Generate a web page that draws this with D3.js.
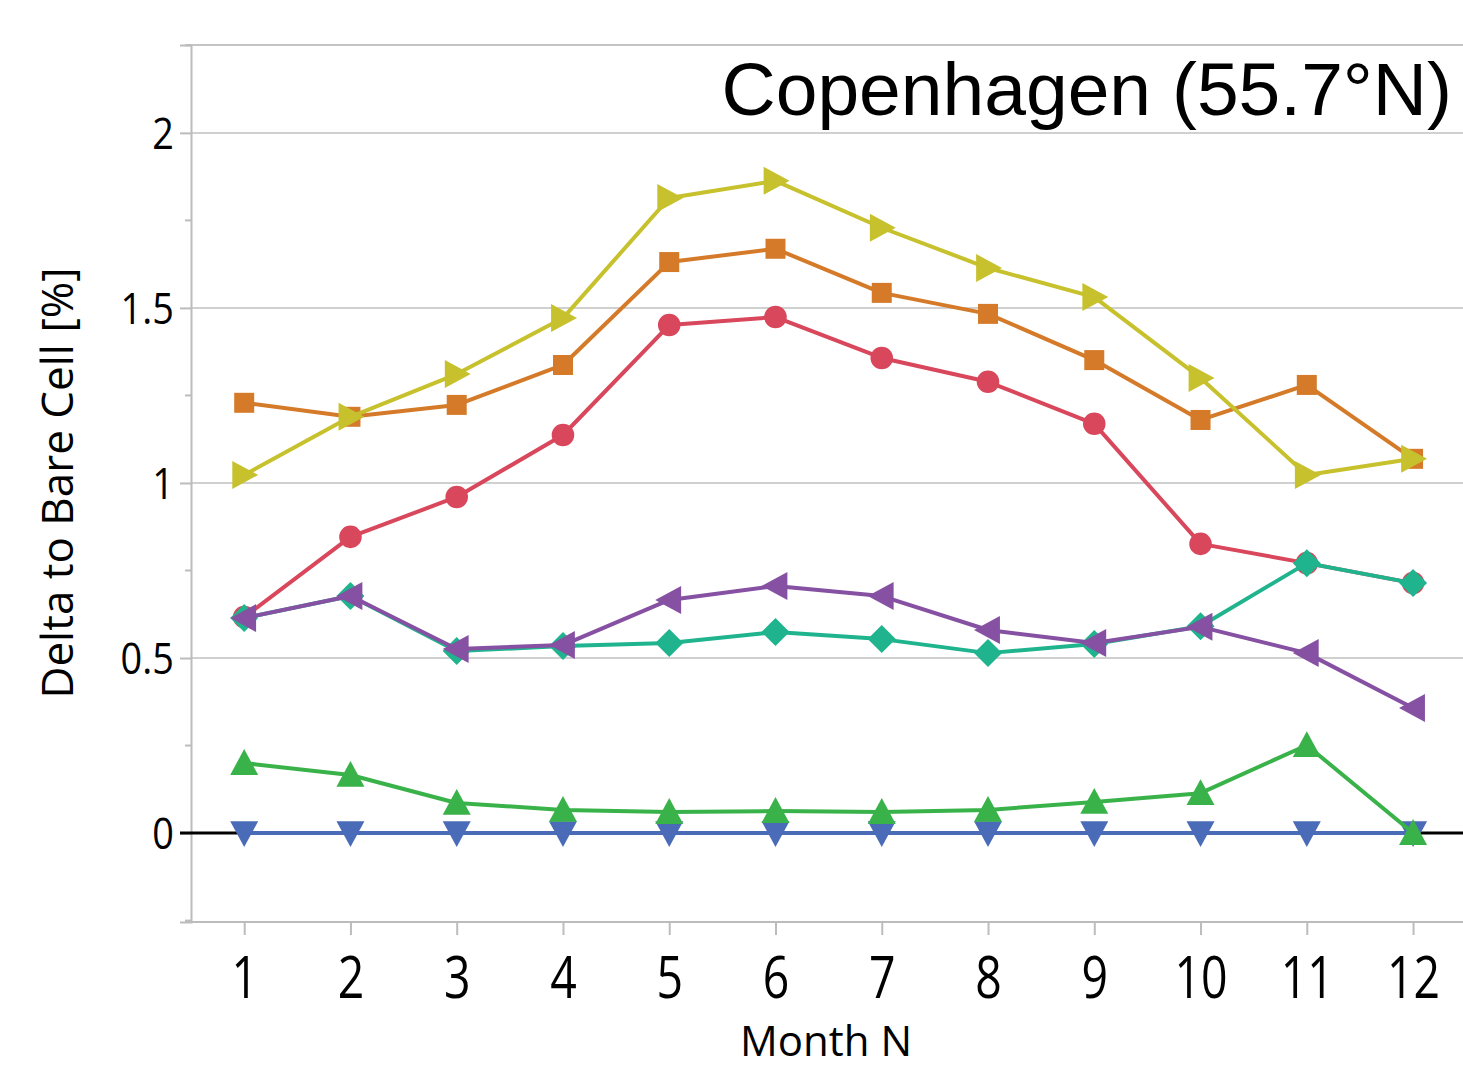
<!DOCTYPE html>
<html>
<head>
<meta charset="utf-8">
<script src="https://cdn.jsdelivr.net/npm/d3@7"></script>
<style>
  body { margin: 0; background: #fff; }
  svg { display: block; }
</style>
</head>
<body>
<svg width="1463" height="1069"></svg>
<script>
// data
const months = [1, 2, 3, 4, 5, 6, 7, 8, 9, 10, 11, 12];
const yTicks = [0, 0.5, 1, 1.5, 2];
const yMinor = [-0.25, 0.25, 0.75, 1.25, 1.75, 2.25];

const blueVals   = [0, 0, 0, 0, 0, 0, 0, 0, 0, 0, 0, 0];
const greenVals  = [0.20, 0.166, 0.086, 0.066, 0.06, 0.063, 0.06, 0.066, 0.089, 0.114, 0.251, 0];
const orangeVals = [1.229, 1.189, 1.223, 1.337, 1.631, 1.669, 1.543, 1.483, 1.351, 1.18, 1.28, 1.069];
const yellowVals = [1.023, 1.189, 1.311, 1.471, 1.814, 1.863, 1.729, 1.614, 1.531, 1.30, 1.023, 1.069];
const redVals    = [0.617, 0.846, 0.96, 1.137, 1.451, 1.474, 1.357, 1.289, 1.169, 0.826, 0.771, 0.714];
const tealVals   = [0.614, 0.677, 0.52, 0.534, 0.543, 0.574, 0.554, 0.514, 0.54, 0.591, 0.771, 0.714];
const purpleVals = [0.614, 0.677, 0.526, 0.537, 0.666, 0.706, 0.677, 0.58, 0.543, 0.589, 0.514, 0.357];

const series = [
  { vals: blueVals,   color: '#4a6bb8', marker: 'down' },
  { vals: greenVals,  color: '#3ab24a', marker: 'up' },
  { vals: orangeVals, color: '#d47a28', marker: 'square' },
  { vals: yellowVals, color: '#c6c12c', marker: 'right' },
  { vals: redVals,    color: '#d8475b', marker: 'circle' },
  { vals: tealVals,   color: '#1fb48e', marker: 'diamond' },
  { vals: purpleVals, color: '#8651a2', marker: 'left' },
];

const svg = d3.select('svg');

const x = d3.scaleLinear().domain([0.49, 12.47]).range([190, 1463]);
const y = d3.scaleLinear().domain([-0.254, 2.251]).range([922, 45]);

// gridlines
svg.append('g')
  .selectAll('line')
  .data(yTicks.filter(d => d !== 0))
  .join('line')
  .attr('x1', 191).attr('x2', 1463)
  .attr('y1', d => y(d)).attr('y2', d => y(d))
  .attr('stroke', '#d0d0d0')
  .attr('stroke-width', 2);

// top frame
svg.append('line')
  .attr('x1', 186).attr('x2', 1463)
  .attr('y1', y(2.251)).attr('y2', y(2.251))
  .attr('stroke', '#c4c4c4').attr('stroke-width', 2);

// y axis
const yAxis = svg.append('g')
  .attr('transform', 'translate(191,0)')
  .call(d3.axisLeft(y).tickValues(yTicks).tickSize(11).tickFormat(d3.format('')));
yAxis.select('.domain').attr('stroke', '#bcbcbc').attr('stroke-width', 2);
yAxis.selectAll('.tick line').attr('stroke', '#bcbcbc').attr('stroke-width', 2);
yAxis.selectAll('.tick text')
  .attr('x', -20)
  .attr('dy', '0.36em')
  .attr('fill', '#000')
  .style('font-family', '"Open Sans", sans-serif')
  .style('font-size', '44px')
  .attr('transform', 'scale(0.86,1)');

svg.append('g')
  .selectAll('line')
  .data(yMinor)
  .join('line')
  .attr('x1', 185).attr('x2', 191)
  .attr('y1', d => y(d)).attr('y2', d => y(d))
  .attr('stroke', '#bcbcbc').attr('stroke-width', 2);

// x axis
const xAxis = svg.append('g')
  .attr('transform', 'translate(0,922)')
  .call(d3.axisBottom(x).tickValues(months).tickSize(13).tickSizeOuter(0).tickPadding(22));
xAxis.select('.domain').attr('stroke', '#bcbcbc').attr('stroke-width', 2)
  .attr('d', 'M185,0H1463');
xAxis.selectAll('.tick line').attr('stroke', '#bcbcbc').attr('stroke-width', 2);
xAxis.selectAll('.tick text')
  .attr('fill', '#000')
  .style('font-family', '"Open Sans", sans-serif')
  .style('font-size', '58px')
  .attr('transform', 'scale(0.8,1)');

// zero line
svg.append('line')
  .attr('x1', 180).attr('x2', 1463)
  .attr('y1', y(0)).attr('y2', y(0))
  .attr('stroke', '#000').attr('stroke-width', 3);

// marker shapes
const triR = 14;
const shapes = {
  circle: d3.symbol(d3.symbolCircle, 400),
  square: d3.symbol(d3.symbolSquare, 400),
};
function markerPath(kind) {
  if (shapes[kind]) return shapes[kind]();
  const a = triR;
  if (kind === 'diamond') return `M0,${-a}L${a},0L0,${a}L${-a},0Z`;
  if (kind === 'up') return `M0,${-a}L${a},${a * 0.85}L${-a},${a * 0.85}Z`;
  if (kind === 'down') return `M0,${a}L${a},${-a * 0.85}L${-a},${-a * 0.85}Z`;
  if (kind === 'right') return `M${a},0L${-a * 0.85},${a}L${-a * 0.85},${-a}Z`;
  return `M${-a},0L${a * 0.85},${a}L${a * 0.85},${-a}Z`;
}

const line = d3.line()
  .x((d, i) => x(months[i]))
  .y(d => y(d));

series.forEach(s => {
  const g = svg.append('g');
  g.append('path')
    .datum(s.vals)
    .attr('d', line)
    .attr('fill', 'none')
    .attr('stroke', s.color)
    .attr('stroke-width', 4)
    .attr('stroke-linejoin', 'round');
  g.selectAll('path.m')
    .data(s.vals)
    .join('path')
    .attr('class', 'm')
    .attr('d', markerPath(s.marker))
    .attr('transform', (d, i) => `translate(${x(months[i])},${y(d)})`)
    .attr('fill', s.color);
});

// title
svg.append('text')
  .attr('x', 1452).attr('y', 115)
  .attr('text-anchor', 'end')
  .style('font-family', '"Liberation Sans", Arial, sans-serif')
  .style('font-size', '75px')
  .text('Copenhagen (55.7°N)');

// axis titles
svg.append('text')
  .attr('transform', 'translate(73,483) rotate(-90)')
  .attr('text-anchor', 'middle')
  .style('font-family', '"Open Sans", sans-serif')
  .style('font-size', '44px')
  .text('Delta to Bare Cell [%]');

svg.append('text')
  .attr('x', 826).attr('y', 1056)
  .attr('text-anchor', 'middle')
  .style('font-family', '"Open Sans", sans-serif')
  .style('font-size', '42px')
  .text('Month N');
</script>
</body>
</html>
